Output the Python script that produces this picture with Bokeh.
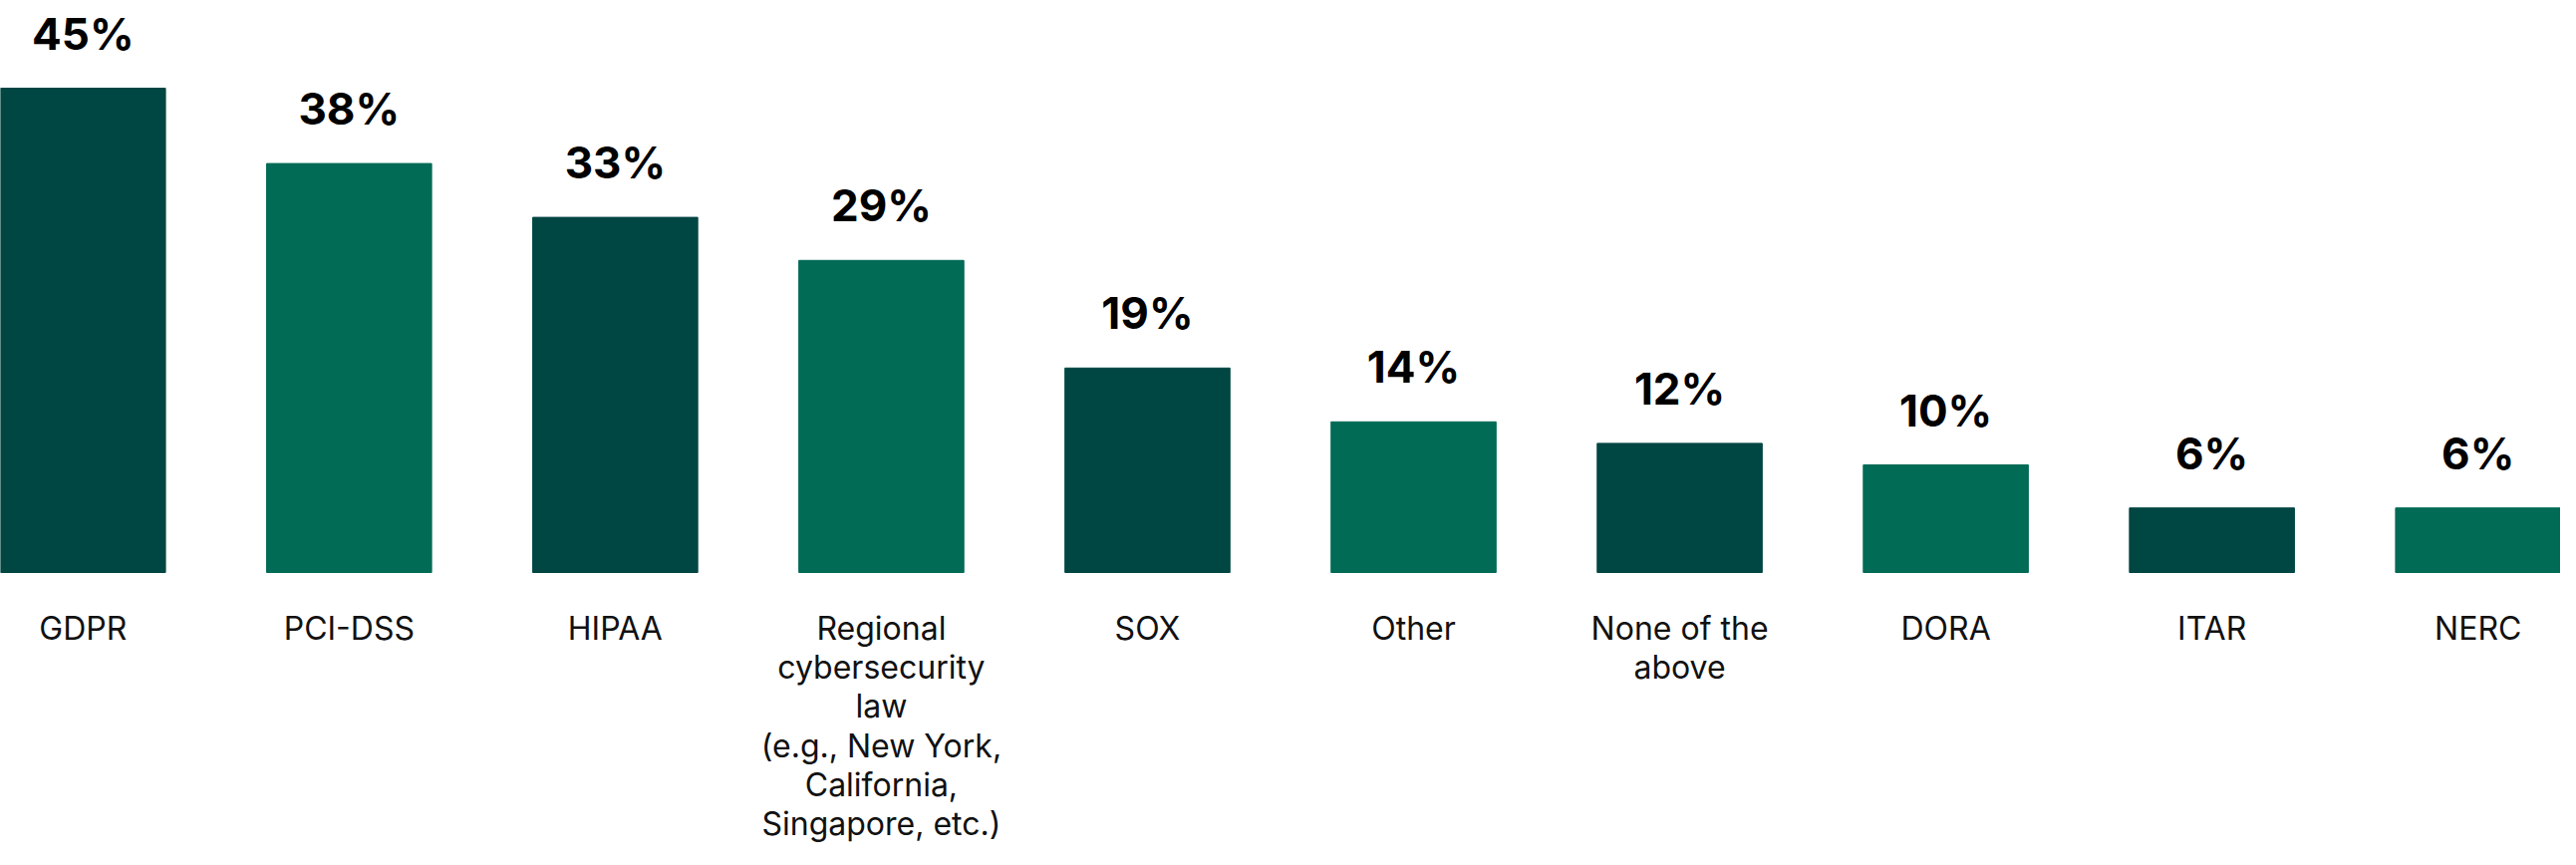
from bokeh.plotting import figure
from bokeh.models import ColumnDataSource, Range1d
from bokeh.core.properties import value
from bokeh.embed import file_html
from bokeh.resources import INLINE

categories = ["GDPR", "PCI-DSS", "HIPAA",
              "Regional\ncybersecurity\nlaw\n(e.g., New York,\nCalifornia,\nSingapore, etc.)",
              "SOX", "Other", "None of the\nabove", "DORA", "ITAR", "NERC"]
values = [45, 38, 33, 29, 19, 14, 12, 10, 6, 6]
colors = ["#004643", "#016b56"] * 5

W, H = 2569, 852
xs = list(range(len(categories)))
src = ColumnDataSource(dict(x=xs, top=values, color=colors,
                            lbl=[f"{v}%" for v in values], cat=categories,
                            zero=[0] * len(values)))

base_px = 574
ppu = 10.8
ymax = base_px / ppu
ymin = ymax - H / ppu

p = figure(width=W, height=H, output_backend="svg", toolbar_location=None,
           x_range=Range1d(-0.31, len(categories) - 1 + 0.31),
           y_range=Range1d(ymin, ymax), min_border=0)
p.axis.visible = False
p.grid.visible = False
p.outline_line_color = None
p.background_fill_color = "white"

p.vbar(x="x", top="top", bottom=0, width=0.62, color="color", source=src)

p.text(x="x", y="top", text="lbl", source=src, text_align="center",
       text_baseline="alphabetic", y_offset=-55, text_color="#000000",
       text_font=value("Inter"), text_font_style="bold", text_font_size="44px")

p.text(x="x", y="zero", text="cat", source=src, text_align="center",
       text_baseline="top", y_offset=36, text_color="#111111",
       text_font=value("Inter"), text_font_size="32px", text_line_height=1.01)

open("out.html", "w").write(file_html(p, INLINE))
